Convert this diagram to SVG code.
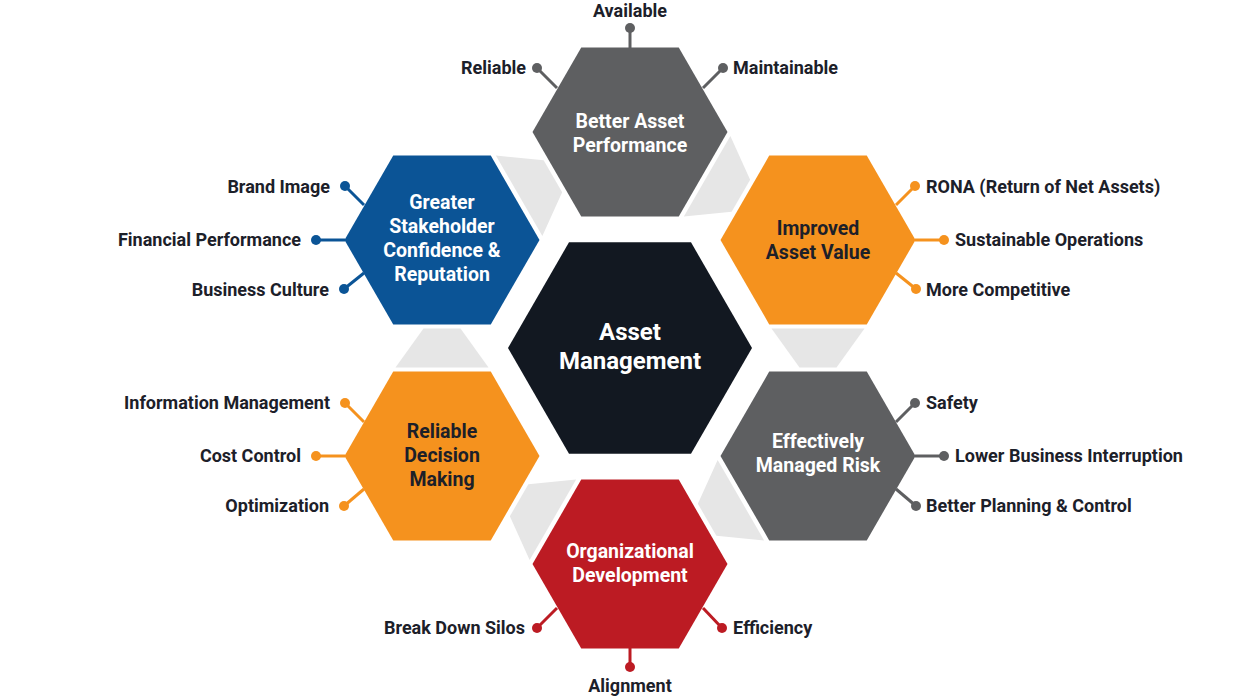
<svg xmlns="http://www.w3.org/2000/svg" width="1260" height="700" viewBox="0 0 1260 700">
<defs>
<style>
.lbl{font-family:Roboto,"Liberation Sans",sans-serif;font-weight:700;font-size:18px;fill:#1c2029}
.ht{font-family:Roboto,"Liberation Sans",sans-serif;font-weight:700;font-size:19.5px;text-anchor:middle}
.w{fill:#ffffff}
.d{fill:#1c2029}
.ct{font-family:Roboto,"Liberation Sans",sans-serif;font-weight:700;font-size:24px;text-anchor:middle;fill:#ffffff}
.gr{fill:#e6e6e6}
.sp{stroke-width:3;fill:none}
.s-gray{stroke:#5e5f61}.f-gray{fill:#5e5f61}
.s-blue{stroke:#0b5496}.f-blue{fill:#0b5496}
.s-or{stroke:#f5921e}.f-or{fill:#f5921e}
.s-red{stroke:#bc1b23}.f-red{fill:#bc1b23}
</style>
<path id="hex" d="M-97.5,0 L-48.75,-84.4 L48.75,-84.4 L97.5,0 L48.75,84.4 L-48.75,84.4Z"/>
<path id="trap" d="M-46.5,19.5 L46.5,19.5 L18.5,-19.5 L-18.5,-19.5Z"/>
</defs>
<rect width="1260" height="700" fill="#ffffff"/>

<g id="connectors">
<use href="#trap" class="gr" transform="translate(536,186) rotate(60)"/>
<use href="#trap" class="gr" transform="translate(724,186) rotate(120)"/>
<use href="#trap" class="gr" transform="translate(818,348) rotate(180)"/>
<use href="#trap" class="gr" transform="translate(724,510) rotate(240)"/>
<use href="#trap" class="gr" transform="translate(536,510) rotate(300)"/>
<use href="#trap" class="gr" transform="translate(442,348)"/>
</g>

<g id="center">
<path d="M508,348 L569,242.3 L691,242.3 L752,348 L691,453.7 L569,453.7Z" fill="#121821"/>
<text class="ct" x="630" y="340">Asset</text>
<text class="ct" x="630" y="369">Management</text>
</g>

<g id="better-asset-performance">
<line class="sp s-gray" x1="630" y1="48" x2="630" y2="28"/>
<line class="sp s-gray" x1="557" y1="88" x2="537" y2="68"/>
<line class="sp s-gray" x1="703" y1="88" x2="723" y2="68"/>
<circle class="f-gray" cx="630" cy="28" r="5"/>
<circle class="f-gray" cx="537" cy="68" r="5"/>
<circle class="f-gray" cx="723" cy="68" r="5"/>
<use href="#hex" class="f-gray" transform="translate(630,132)"/>
<text class="ht w" x="630" y="128">Better Asset</text>
<text class="ht w" x="630" y="152">Performance</text>
<text class="lbl" x="630" y="17" text-anchor="middle">Available</text>
<text class="lbl" x="526" y="74" text-anchor="end">Reliable</text>
<text class="lbl" x="733" y="74">Maintainable</text>
</g>

<g id="greater-stakeholder">
<line class="sp s-blue" x1="364" y1="205" x2="345" y2="186"/>
<line class="sp s-blue" x1="345" y1="240" x2="316" y2="240"/>
<line class="sp s-blue" x1="364" y1="273" x2="344" y2="289"/>
<circle class="f-blue" cx="345" cy="186" r="5"/>
<circle class="f-blue" cx="316" cy="240" r="5"/>
<circle class="f-blue" cx="344" cy="289" r="5"/>
<use href="#hex" class="f-blue" transform="translate(442,240)"/>
<text class="ht w" x="442" y="209">Greater</text>
<text class="ht w" x="442" y="233">Stakeholder</text>
<text class="ht w" x="442" y="257">Confidence &amp;</text>
<text class="ht w" x="442" y="281">Reputation</text>
<text class="lbl" x="330" y="193" text-anchor="end">Brand Image</text>
<text class="lbl" x="301" y="246" text-anchor="end">Financial Performance</text>
<text class="lbl" x="329" y="296" text-anchor="end">Business Culture</text>
</g>

<g id="improved-asset-value">
<line class="sp s-or" x1="896" y1="205" x2="915" y2="186"/>
<line class="sp s-or" x1="915" y1="240" x2="944" y2="240"/>
<line class="sp s-or" x1="896" y1="273" x2="916" y2="289"/>
<circle class="f-or" cx="915" cy="186" r="5"/>
<circle class="f-or" cx="944" cy="240" r="5"/>
<circle class="f-or" cx="916" cy="289" r="5"/>
<use href="#hex" class="f-or" transform="translate(818,240)"/>
<text class="ht d" x="818" y="235">Improved</text>
<text class="ht d" x="818" y="259">Asset Value</text>
<text class="lbl" x="926" y="193">RONA (Return of Net Assets)</text>
<text class="lbl" x="955" y="246">Sustainable Operations</text>
<text class="lbl" x="926" y="296">More Competitive</text>
</g>

<g id="effectively-managed-risk">
<line class="sp s-gray" x1="896" y1="422" x2="915" y2="403"/>
<line class="sp s-gray" x1="915" y1="456" x2="944" y2="456"/>
<line class="sp s-gray" x1="896" y1="489" x2="916" y2="506"/>
<circle class="f-gray" cx="915" cy="403" r="5"/>
<circle class="f-gray" cx="944" cy="456" r="5"/>
<circle class="f-gray" cx="916" cy="506" r="5"/>
<use href="#hex" class="f-gray" transform="translate(818,456)"/>
<text class="ht w" x="818" y="448">Effectively</text>
<text class="ht w" x="818" y="472">Managed Risk</text>
<text class="lbl" x="926" y="409">Safety</text>
<text class="lbl" x="955" y="462">Lower Business Interruption</text>
<text class="lbl" x="926" y="512">Better Planning &amp; Control</text>
</g>

<g id="reliable-decision-making">
<line class="sp s-or" x1="364" y1="422" x2="345" y2="403"/>
<line class="sp s-or" x1="345" y1="456" x2="316" y2="456"/>
<line class="sp s-or" x1="364" y1="489" x2="344" y2="506"/>
<circle class="f-or" cx="345" cy="403" r="5"/>
<circle class="f-or" cx="316" cy="456" r="5"/>
<circle class="f-or" cx="344" cy="506" r="5"/>
<use href="#hex" class="f-or" transform="translate(442,456)"/>
<text class="ht d" x="442" y="438">Reliable</text>
<text class="ht d" x="442" y="462">Decision</text>
<text class="ht d" x="442" y="486">Making</text>
<text class="lbl" x="330" y="409" text-anchor="end">Information Management</text>
<text class="lbl" x="301" y="462" text-anchor="end">Cost Control</text>
<text class="lbl" x="329" y="512" text-anchor="end">Optimization</text>
</g>

<g id="organizational-development">
<line class="sp s-red" x1="557" y1="608" x2="537" y2="628"/>
<line class="sp s-red" x1="703" y1="608" x2="722" y2="628"/>
<line class="sp s-red" x1="630" y1="647" x2="630" y2="667"/>
<circle class="f-red" cx="537" cy="628" r="5"/>
<circle class="f-red" cx="722" cy="628" r="5"/>
<circle class="f-red" cx="630" cy="667" r="5"/>
<use href="#hex" class="f-red" transform="translate(630,564)"/>
<text class="ht w" x="630" y="558">Organizational</text>
<text class="ht w" x="630" y="582">Development</text>
<text class="lbl" x="525" y="634" text-anchor="end">Break Down Silos</text>
<text class="lbl" x="733" y="634">Efficiency</text>
<text class="lbl" x="630" y="692" text-anchor="middle">Alignment</text>
</g>
</svg>
